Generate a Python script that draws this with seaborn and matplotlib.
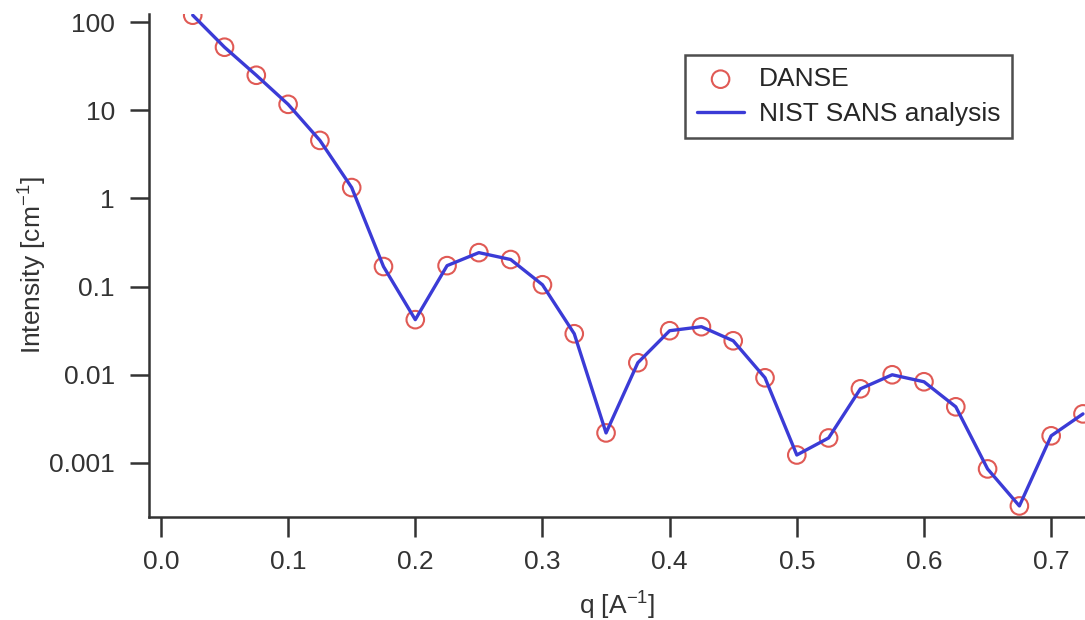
"""
Small-angle scattering comparison: DANSE points vs. NIST SANS analysis curve.
"""

import numpy as np
import pandas as pd
import matplotlib
matplotlib.use("Agg")
import matplotlib.pyplot as plt
from matplotlib.ticker import FixedLocator, FuncFormatter, NullLocator
import seaborn as sns

# values
q = [0.025, 0.05, 0.075, 0.1, 0.125, 0.15, 0.175, 0.2, 0.225, 0.25,
     0.275, 0.3, 0.325, 0.35, 0.375, 0.4, 0.425, 0.45, 0.475, 0.5,
     0.525, 0.55, 0.575, 0.6, 0.625, 0.65, 0.675, 0.7, 0.725]
intensity = [120, 52, 25, 11.7, 4.56, 1.33, 0.169, 0.0422, 0.173, 0.243,
             0.203, 0.105, 0.0292, 0.00219, 0.0137, 0.0316, 0.0351, 0.0243, 0.00924, 0.00123,
             0.00192, 0.00693, 0.0100, 0.00833, 0.00433, 0.000855, 0.000325, 0.00203, 0.00360]
y_ticks = [100, 10, 1, 0.1, 0.01, 0.001]
x_ticks = [0.0, 0.1, 0.2, 0.3, 0.4, 0.5, 0.6, 0.7]

df = pd.DataFrame({'q': q, 'I': intensity})

sns.set_style("ticks")
plt.rcParams['font.family'] = ['Liberation Sans', 'DejaVu Sans']
FS = 19

fig = plt.figure(figsize=(10.85, 6.2), dpi=100)
ax = fig.add_axes([0.1373, 0.166, 0.8627, 0.811])

# DANSE: hollow red circles
sns.scatterplot(data=df, x='q', y='I', ax=ax, marker='o', s=160,
                facecolors='none', edgecolor='#e05a55', linewidth=1.5,
                label='DANSE', zorder=2)
# NIST curve on top
sns.lineplot(data=df, x='q', y='I', ax=ax, color='#3b3bd6', linewidth=2.4,
             label='NIST SANS analysis', zorder=3, sort=False)

ax.set_yscale('log')
ax.set_xlim(-0.0094, 0.7266)
ax.set_ylim(2.43e-4, 123)

ax.yaxis.set_major_locator(FixedLocator(y_ticks))
ax.yaxis.set_minor_locator(NullLocator())
ax.yaxis.set_major_formatter(FuncFormatter(lambda v, p: '%g' % v))
ax.set_xticks(x_ticks)
ax.set_xticklabels(['%.1f' % v for v in x_ticks])

ax.set_xlabel(r'q [A$^{\mathregular{-1}}$]', fontsize=FS, color='#333333', labelpad=10)
ax.set_ylabel(r'Intensity [cm$^{\mathregular{-1}}$]', fontsize=FS, color='#333333', labelpad=1)

for side in ['top', 'right']:
    ax.spines[side].set_visible(False)
for side in ['left', 'bottom']:
    ax.spines[side].set_linewidth(1.8)
    ax.spines[side].set_color('#333333')
ax.tick_params(axis='both', direction='out', width=1.8, color='#333333',
               labelsize=FS, labelcolor='#333333')
ax.tick_params(axis='y', length=13.5, pad=11)
ax.tick_params(axis='x', length=14.5, pad=9)
ax.grid(False)

leg = ax.legend(loc='upper left', bbox_to_anchor=(0.5726, 0.9185), fontsize=FS,
                frameon=True, fancybox=False, borderpad=0.45, handlelength=1.8,
                labelspacing=0.42, handletextpad=0.55, borderaxespad=0)
leg.get_frame().set_edgecolor('#222222')
leg.get_frame().set_linewidth(1.8)

plt.savefig("out.png", dpi=100, facecolor='white')
